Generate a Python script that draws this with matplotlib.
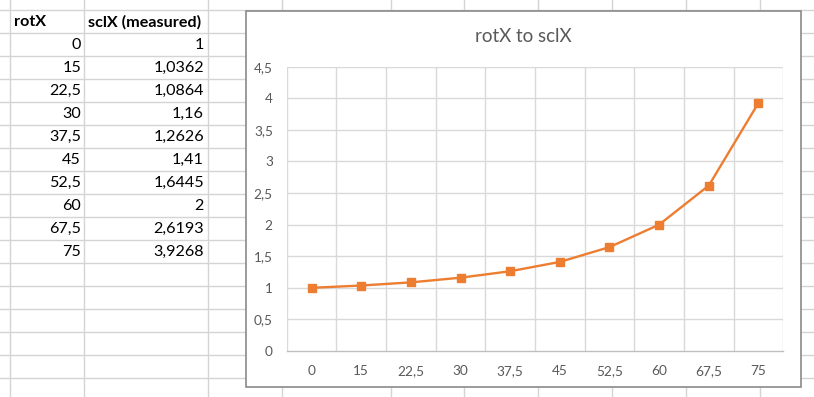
import matplotlib
matplotlib.use("Agg")
import matplotlib.pyplot as plt
from matplotlib.patches import Rectangle

# ---- data ----
header_a = "rotX"
header_b = "sclX (measured)"
rot_x = [0, 15, 22.5, 30, 37.5, 45, 52.5, 60, 67.5, 75]
scl_x = [1, 1.0362, 1.0864, 1.16, 1.2626, 1.41, 1.6445, 2, 2.6193, 3.9268]
chart_title = "rotX to sclX"
y_ticks = [0, 0.5, 1, 1.5, 2, 2.5, 3, 3.5, 4, 4.5]


def fmt(v):
    return f"{v:g}".replace(".", ",")


W, H, DPI = 814, 397, 100
FONT = "Lato"
ORANGE = "#ED7D31"
LABEL = "#595959"

fig = plt.figure(figsize=(W / DPI, H / DPI), dpi=DPI)
fig.patch.set_facecolor("white")

# ---- spreadsheet background (pixel coordinates) ----
bg = fig.add_axes([0, 0, 1, 1])
bg.set_xlim(0, W)
bg.set_ylim(H, 0)
bg.axis("off")

grid_c = "#D4D4D4"
col_lines = [10, 84, 208, 282, 391, 464, 538, 612, 686, 760]
for x in col_lines:
    bg.plot([x, x], [0, H], color=grid_c, lw=1, zorder=1)
y = 10.3
while y < H:
    bg.plot([0, W], [y, y], color=grid_c, lw=1, zorder=1)
    y += 23

row_h = 23
row0 = 10.3
fs_cell = 11.6
bg.text(14, row0 + row_h / 2 + 0.5, header_a, ha="left", va="center",
        fontsize=fs_cell, fontweight="bold", family=FONT, color="black", zorder=2)
bg.text(88, row0 + row_h / 2 + 0.5, header_b, ha="left", va="center",
        fontsize=fs_cell, fontweight="bold", family=FONT, color="black", zorder=2)
for i, (a, b) in enumerate(zip(rot_x, scl_x)):
    yc = row0 + row_h * (i + 1) + row_h / 2 + 0.5
    bg.text(81, yc, fmt(a), ha="right", va="center", fontsize=fs_cell,
            family=FONT, color="black", zorder=2)
    bg.text(204, yc, fmt(b), ha="right", va="center", fontsize=fs_cell,
            family=FONT, color="black", zorder=2)

# ---- chart frame ----
cx0, cy0, cx1, cy1 = 246, 10.7, 801, 387
bg.add_patch(Rectangle((cx0, cy0), cx1 - cx0, cy1 - cy0, facecolor="white",
                       edgecolor="#8A8A8A", lw=1.2, zorder=5))
bg.text((cx0 + cx1) / 2, 36, chart_title, ha="center", va="center",
        fontsize=13.5, family=FONT, color=LABEL, zorder=6)

# ---- plot area ----
px0, px1 = 286.7, 783.3
py_top, py_bot = 66.7, 351
ax = fig.add_axes([px0 / W, (H - py_bot) / H, (px1 - px0) / W, (py_bot - py_top) / H])
ax.set_facecolor("none")
ax.set_zorder(10)

xs = list(range(len(rot_x)))
ax.set_xlim(-0.5, len(rot_x) - 0.5)
ax.set_ylim(0, 4.5)
ax.set_yticks(y_ticks)
ax.set_yticklabels([fmt(v) for v in y_ticks])
ax.set_xticks(xs)
ax.set_xticklabels([fmt(v) for v in rot_x])

for v in y_ticks[1:]:
    ax.axhline(v, color="#D9D9D9", lw=1, zorder=1)
for k in range(len(rot_x) + 1):
    ax.axvline(k - 0.5, color="#D9D9D9", lw=1, zorder=1)

for s in ["top", "right", "left"]:
    ax.spines[s].set_visible(False)
ax.spines["bottom"].set_color("#BFBFBF")
ax.spines["bottom"].set_linewidth(1)
ax.tick_params(axis="both", length=0, labelsize=9.8, labelcolor=LABEL)
ax.tick_params(axis="x", pad=10)
ax.tick_params(axis="y", pad=10)
for lab in ax.get_xticklabels() + ax.get_yticklabels():
    lab.set_family(FONT)

ax.plot(xs, scl_x, color=ORANGE, lw=1.7, marker="s", markersize=5.6,
        markerfacecolor=ORANGE, markeredgecolor=ORANGE, zorder=3, clip_on=False)

fig.savefig("out.png", dpi=DPI, facecolor="white")
